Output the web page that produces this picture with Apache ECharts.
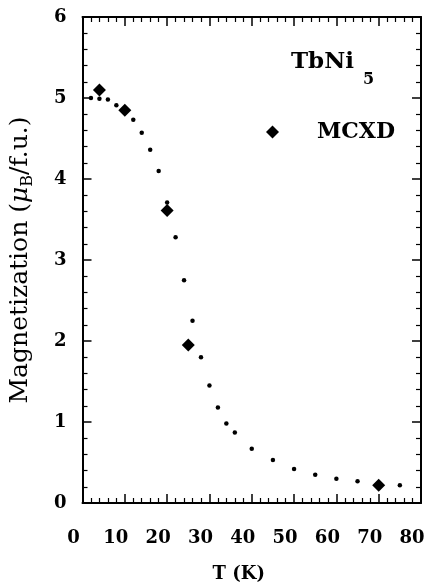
<!DOCTYPE html>
<html><head><meta charset="utf-8">
<script src="https://cdn.jsdelivr.net/npm/echarts@6/dist/echarts.min.js"></script>
<style>html,body{margin:0;padding:0;background:#fff}#c{width:432px;height:588px}</style>
</head><body><div id="c"></div>
<script>
// simulated curve (dots)
const simT = [2, 4, 6, 8, 10, 12, 14, 16, 18, 20, 22, 24, 26, 28, 30, 32, 34, 36, 40, 45, 50, 55, 60, 65, 70, 75];
const simM = [5.00, 4.99, 4.98, 4.91, 4.83, 4.73, 4.57, 4.36, 4.10, 3.71, 3.28, 2.75, 2.25, 1.80, 1.45, 1.18, 0.98, 0.87, 0.67, 0.53, 0.42, 0.35, 0.30, 0.27, 0.245, 0.22];
// MCXD measurements (diamonds)
const mcxdT = [4, 10, 20, 25, 70];
const mcxdM = [5.10, 4.85, 3.61, 1.95, 0.22];
const xTickLabels = ['0', '10', '20', '30', '40', '50', '60', '70', '80'];
const yTickLabels = ['0', '1', '2', '3', '4', '5', '6'];

const serif = '"DejaVu Serif", "Liberation Serif", serif';
const chart = echarts.init(document.getElementById('c'));

function frameAxis(extra) {
  return Object.assign({
    type: 'value',
    axisLine: { show: true, onZero: false, lineStyle: { color: '#000', width: 2 } },
    axisTick: { show: true, inside: true, length: 9, lineStyle: { color: '#000', width: 1.5 } },
    minorTick: { show: true, splitNumber: 5, length: 5, lineStyle: { color: '#000', width: 1.2 } },
    splitLine: { show: false },
    minorSplitLine: { show: false }
  }, extra);
}

chart.setOption({
  animation: false,
  title: [
    { text: 'TbNi', left: 286, top: 46, textStyle: { fontFamily: serif, fontWeight: 'bold', fontSize: 23, color: '#000' } },
    { text: '5', left: 358, top: 67, textStyle: { fontFamily: serif, fontWeight: 'bold', fontSize: 16, color: '#000' } }
  ],
  legend: {
    data: ['MCXD'], left: 261, top: 116, icon: 'diamond', itemWidth: 13, itemHeight: 13,
    itemStyle: { color: '#000', opacity: 1 },
    textStyle: { fontFamily: serif, fontWeight: 'bold', fontSize: 22, color: '#000', padding: [0, 0, 0, 33] }
  },
  grid: { left: 81, right: 11, top: 17, bottom: 85 },
  xAxis: [
    frameAxis({ min: 0, max: 80, interval: 10, position: 'bottom',
      axisLabel: { show: true, margin: 26, padding: [0, 18, 0, 0], fontFamily: serif, fontWeight: 'bold', fontSize: 18, color: '#000',
        formatter: v => xTickLabels[xTickLabels.indexOf(String(v))] },
      name: 'T (K)', nameLocation: 'middle', nameGap: 62,
      nameTextStyle: { fontFamily: serif, fontWeight: 'bold', fontSize: 18, color: '#000', padding: [0, 26, 0, 0] } }),
    frameAxis({ min: 0, max: 80, interval: 10, position: 'top', axisLabel: { show: false } })
  ],
  yAxis: [
    frameAxis({ min: 0, max: 6, interval: 1, position: 'left',
      axisLabel: { show: true, margin: 16, fontFamily: serif, fontWeight: 'bold', fontSize: 18, color: '#000',
        formatter: v => yTickLabels[yTickLabels.indexOf(String(v))] },
      name: '{t|Magnetization (}{m|μ}{s|B}{t|/f.u.)}', nameLocation: 'middle', nameGap: 45,
      nameTextStyle: {
        rich: {
          t: { fontFamily: serif, fontSize: 25, color: '#000', lineHeight: 34, verticalAlign: 'middle' },
          m: { fontFamily: serif, fontStyle: 'italic', fontSize: 25, color: '#000', lineHeight: 34, verticalAlign: 'middle' },
          s: { fontFamily: serif, fontSize: 16, color: '#000', lineHeight: 34, verticalAlign: 'bottom', padding: [0, 0, 2, 0] }
        }
      } }),
    frameAxis({ min: 0, max: 6, interval: 1, position: 'right', axisLabel: { show: false } })
  ],
  series: [
    {
      name: 'sim', type: 'scatter',
      symbol: 'circle', symbolSize: 4.5, itemStyle: { color: '#000', opacity: 1 },
      data: simT.map((t, i) => [t, simM[i]])
    },
    {
      name: 'MCXD', type: 'scatter',
      symbol: 'diamond', symbolSize: 13, itemStyle: { color: '#000', opacity: 1 },
      data: mcxdT.map((t, i) => [t, mcxdM[i]])
    }
  ]
});
</script></body></html>
